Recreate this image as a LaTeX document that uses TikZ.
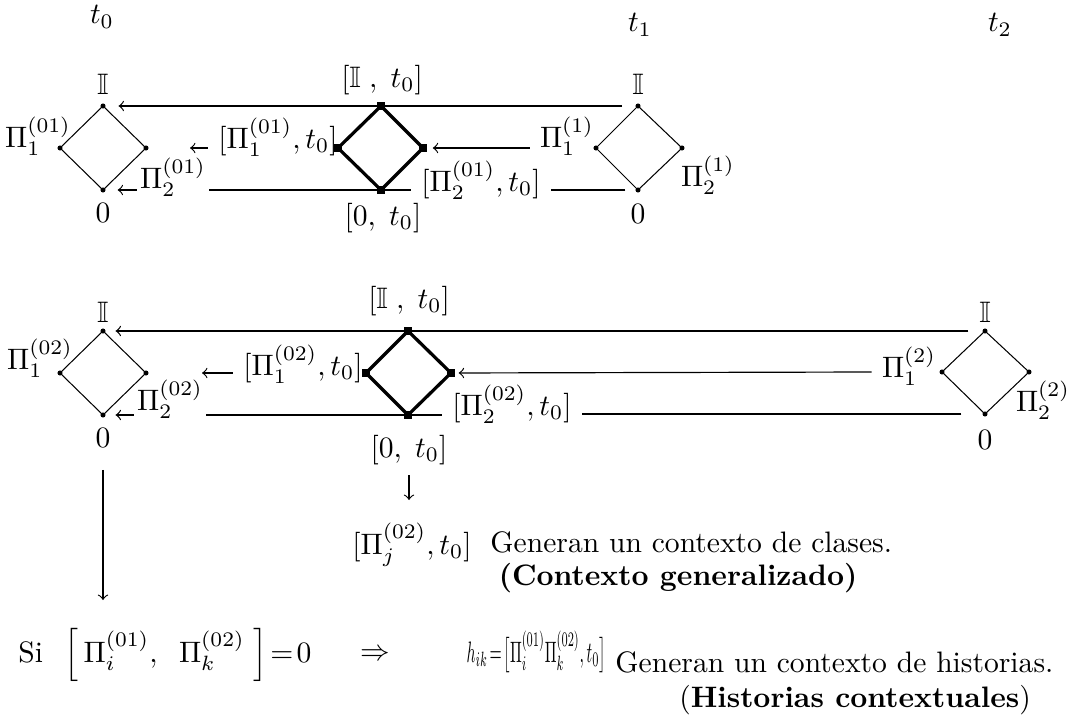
\documentclass[tikz,border=0pt]{standalone}
\usepackage{amssymb}
\usepackage{graphicx}
\begin{document}
\begin{tikzpicture}[x=0.338pt,y=-0.338pt,
  dot/.style={circle,fill,inner sep=0pt,minimum size=1.7pt},
  sq/.style={rectangle,fill,inner sep=0pt,minimum size=2.6pt},
  lat/.style={line width=0.35pt},
  heavy/.style={line width=1.1pt},
  arr/.style={->,line width=0.4pt},
  conn/.style={line width=0.4pt},
  tight/.style={inner sep=1pt}]
\useasboundingbox (0,0) rectangle (1068,719);

% ---------- time labels
\node (t0) at (102,17) {$t_0$};
\node (t1) at (640,25) {$t_1$};
\node (t2) at (1000,25) {$t_2$};

% ---------- upper diagram vertices
\node[dot] (aT) at (103,106) {};
\node[dot] (aL) at (60,148) {};
\node[dot] (aR) at (146,148) {};
\node[dot] (aB) at (103,190) {};
\node[sq] (bT) at (381,106) {};
\node[sq] (bL) at (338,148) {};
\node[sq] (bR) at (423,148) {};
\node[sq] (bB) at (381,190) {};
\node[dot] (cT) at (638,106) {};
\node[dot] (cL) at (596,148) {};
\node[dot] (cR) at (682,148) {};
\node[dot] (cB) at (638,190) {};
\draw[lat] (aT.center) -- (aR.center) -- (aB.center) -- (aL.center) -- cycle;
\draw[heavy,line join=miter] (bT.center) -- (bR.center) -- (bB.center) -- (bL.center) -- cycle;
\draw[lat] (cT.center) -- (cR.center) -- (cB.center) -- (cL.center) -- cycle;

% upper labels
\node (aI) at (103,84) {$\mathbb{I}$};
\node (a0) at (103,213) {$0$};
\node (aP1) at (38,136) {$\Pi_1^{(01)}$};
\node[tight] (aP2) at (173,177) {$\Pi_2^{(01)}$};
\node (bI) at (382,80) {$[\mathbb{I}\;,\;t_0]$};
\node (b0) at (383,218) {$[0,\;t_0]$};
\node (bP1) at (278,137) {$[\Pi_1^{(01)},t_0]$};
\node (bP2) at (481,180) {$[\Pi_2^{(01)},t_0]$};
\node (cI) at (638,84) {$\mathbb{I}$};
\node (c0) at (638,214) {$0$};
\node (cP1) at (567,136) {$\Pi_1^{(1)}$};
\node (cP2) at (708,175) {$\Pi_2^{(1)}$};
\coordinate (aM) at (190,148);

% upper connectors
\draw[arr,shorten <=4.3pt,shorten >=4.2pt] (cT) -- (aT);
\draw[arr,shorten >=1.8pt] (cP1.west |- cL) -- (bR);
\draw[arr] (bP1.west |- bL) -- (aM);
\draw[conn,shorten <=3.2pt] (cB) -- (bP2.east |- cB);
\draw[conn] (bP2.west |- bB) -- (aP2.east |- aB);
\draw[arr,shorten >=3.9pt] (aP2.west |- aB) -- (aB);

% ---------- lower diagram vertices
\node[dot] (dT) at (103,331) {};
\node[dot] (dL) at (60,373) {};
\node[dot] (dR) at (146,373) {};
\node[dot] (dB) at (103,415) {};
\node[sq] (eT) at (408,331) {};
\node[sq] (eL) at (366,373) {};
\node[sq] (eR) at (451,373) {};
\node[sq] (eB) at (408,415) {};
\node[dot] (fT) at (985,331) {};
\node[dot] (fL) at (942,372) {};
\node[dot] (fR) at (1029,372) {};
\node[dot] (fB) at (985,414) {};
\draw[lat] (dT.center) -- (dR.center) -- (dB.center) -- (dL.center) -- cycle;
\draw[heavy,line join=miter] (eT.center) -- (eR.center) -- (eB.center) -- (eL.center) -- cycle;
\draw[lat] (fT.center) -- (fR.center) -- (fB.center) -- (fL.center) -- cycle;

% lower labels
\node (dI) at (103,312) {$\mathbb{I}$};
\node (d0) at (103,438) {$0$};
\node (dP1) at (40,358) {$\Pi_1^{(02)}$};
\node[tight] (dP2) at (170,399) {$\Pi_2^{(02)}$};
\node (eI) at (409,301) {$[\mathbb{I}\;,\;t_0]$};
\node (e0) at (409,450) {$[0,\;t_0]$};
\node (eP1) at (303,364) {$[\Pi_1^{(02)},t_0]$};
\node (eP2) at (512,404) {$[\Pi_2^{(02)},t_0]$};
\node (fI) at (985,312) {$\mathbb{I}$};
\node (f0) at (985,440) {$0$};
\node (fP1) at (909,366) {$\Pi_1^{(2)}$};
\node[tight] (fP2) at (1043,400) {$\Pi_2^{(2)}$};
\coordinate (dM) at (202,373);

% lower connectors
\draw[arr,shorten <=4.6pt,shorten >=3.2pt] (fT) -- (dT);
\draw[arr,shorten >=1.1pt] (fP1.west |- fL) -- (eR);
\draw[arr] (eP1.west |- eL) -- (dM);
\draw[conn,shorten <=6.9pt] (fB) -- (eP2.east |- fB);
\draw[conn] (eP2.west |- eB) -- (dP2.east |- dB);
\draw[arr,shorten >=3.2pt] (dP2.west |- dB) -- (dB);

% ---------- bottom part
\coordinate (dEnd) at (103,600);
\coordinate (eEnd) at (409,500);
\draw[arr,shorten <=4pt] (d0) -- (dEnd);
\draw[arr] (e0) -- (eEnd);

\node (ePj) at (412,545) {$[\Pi_j^{(02)},t_0]$};
\node[anchor=base west] (clases) at (480,552) {Generan un contexto de clases.};
\node[anchor=base] (gen) at (678,585) {\textbf{(Contexto generalizado)}};

\node[anchor=base west] (si) at (8,662) {Si\hspace{4pt} $\Bigl[\,\Pi_i^{(01)},\;\;\Pi_k^{(02)}\;\Bigr]\!=\!0$};
\node (impl) at (375,655) {$\Rightarrow$};
\node[anchor=base west,inner sep=0pt] (hik) at (466,662) {\scalebox{0.53}[1]{$h_{ik}\!=\!\bigl[\Pi_i^{(01)}\Pi_k^{(02)},t_0\bigr]$}};
\node[anchor=base west] (hist) at (605,672) {Generan un contexto de historias.};
\node[anchor=base] (hc) at (855,707) {(\textbf{Historias contextuales})};
\end{tikzpicture}
\end{document}
